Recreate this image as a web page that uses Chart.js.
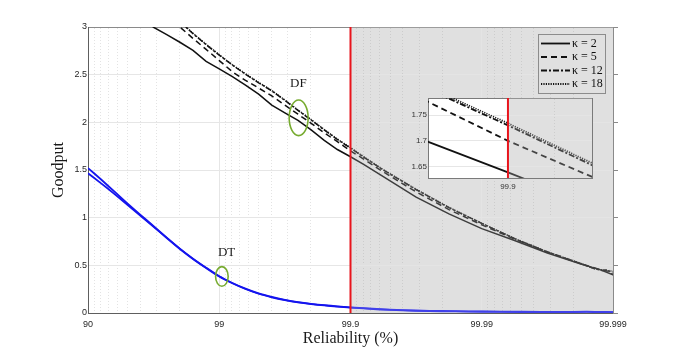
<!DOCTYPE html>
<html>
<head>
<meta charset="utf-8">
<script src="https://cdn.jsdelivr.net/npm/chart.js@4/dist/chart.umd.min.js"></script>
<style>
  html, body { margin: 0; padding: 0; background: #fff; }
  #wrap { position: relative; width: 677px; height: 352px; }
  #main { position: absolute; left: 0; top: 0; }
  #inset { position: absolute; left: 396px; top: 92px; }
</style>
</head>
<body>
<div id="wrap">
  <canvas id="main" width="677" height="352"></canvas>
  <canvas id="inset" width="200" height="100"></canvas>
</div>
<script>
// x is "number of nines": -log10(1 - R)
const nineTicks = [1, 2, 3, 4, 5];
const nineLabels = ["90", "99", "99.9", "99.99", "99.999"];
const goodputTicks = [0, 0.5, 1, 1.5, 2, 2.5, 3];
const goodputLabels = ["0", "0.5", "1", "1.5", "2", "2.5", "3"];
const insetTicks = [1.65, 1.7, 1.75];
const insetLabels = ["1.65", "1.7", "1.75"];
const shadeFrom = 3; // 99.9 %

const kappaLabels = ["\u03ba = 2", "\u03ba = 5", "\u03ba = 12", "\u03ba = 18"];

// DF curves
const k2X = [1.45, 1.5, 1.6, 1.7, 1.8, 1.9, 2.0, 2.1, 2.2, 2.3, 2.4, 2.5, 2.6, 2.7, 2.8, 2.9, 3.0, 3.1, 3.25, 3.5, 3.75, 4.0, 4.25, 4.5, 4.75, 4.9, 5.0];
const k2Y = [3.05, 2.997, 2.92, 2.84, 2.755, 2.64, 2.56, 2.48, 2.39, 2.295, 2.18, 2.10, 2.02, 1.92, 1.81, 1.715, 1.639, 1.56, 1.43, 1.215, 1.04, 0.885, 0.76, 0.63, 0.515, 0.455, 0.40];
const k5X = [1.65, 1.7, 1.8, 1.9, 2.0, 2.1, 2.2, 2.3, 2.4, 2.5, 2.6, 2.7, 2.8, 2.9, 3.0, 3.1, 3.25, 3.5, 3.75, 4.0, 4.25, 4.5, 4.75, 4.9, 5.0];
const k5Y = [3.06, 3.0, 2.88, 2.765, 2.648, 2.53, 2.44, 2.36, 2.278, 2.18, 2.085, 1.99, 1.89, 1.797, 1.70, 1.615, 1.48, 1.27, 1.085, 0.925, 0.775, 0.64, 0.52, 0.455, 0.43];
const k12X = [1.7, 1.75, 1.8, 1.9, 2.0, 2.1, 2.2, 2.3, 2.4, 2.5, 2.6, 2.7, 2.8, 2.9, 3.0, 3.1, 3.25, 3.5, 3.75, 4.0, 4.25, 4.5, 4.75, 4.85, 4.92, 4.96, 5.0];
const k12Y = [3.05, 2.993, 2.93, 2.815, 2.705, 2.60, 2.505, 2.415, 2.33, 2.23, 2.125, 2.025, 1.92, 1.82, 1.73, 1.636, 1.50, 1.295, 1.105, 0.94, 0.78, 0.64, 0.52, 0.47, 0.445, 0.455, 0.40];
const k18Y = [3.054, 2.997, 2.934, 2.819, 2.709, 2.604, 2.509, 2.419, 2.334, 2.234, 2.129, 2.029, 1.924, 1.824, 1.734, 1.640, 1.503, 1.298, 1.108, 0.942, 0.782, 0.642, 0.522, 0.468, 0.45, 0.44, 0.44];

// DT curves
const dtX = [1.0, 1.1, 1.2, 1.3, 1.4, 1.5, 1.6, 1.7, 1.8, 1.9, 2.0, 2.1, 2.2, 2.3, 2.4, 2.5, 2.6, 2.7, 2.8, 2.9, 3.0, 3.2, 3.4, 3.6, 3.8, 4.0, 4.3, 4.6, 4.8, 4.9, 5.0];
const dtAY = [1.52, 1.40, 1.275, 1.15, 1.03, 0.91, 0.79, 0.675, 0.57, 0.475, 0.385, 0.315, 0.255, 0.205, 0.168, 0.138, 0.114, 0.096, 0.082, 0.07, 0.06, 0.042, 0.03, 0.023, 0.019, 0.016, 0.013, 0.011, 0.014, 0.011, 0.01];
const dtBY = [1.465, 1.36, 1.25, 1.135, 1.02, 0.905, 0.787, 0.672, 0.567, 0.472, 0.382, 0.312, 0.252, 0.202, 0.165, 0.135, 0.111, 0.093, 0.079, 0.067, 0.057, 0.039, 0.027, 0.02, 0.016, 0.013, 0.01, 0.009, 0.011, 0.009, 0.008];

// annotation spots (data coords)
const markDF = { x: 2.605, y: 2.047, label: "DF", lx: 2.603, ly: 2.41 };
const markDT = { x: 2.02, y: 0.384, label: "DT", lx: 2.056, ly: 0.63 };

const serif = "'Liberation Serif', 'DejaVu Serif', serif";
const sans = "'Liberation Sans', Arial, sans-serif";
const axisColor = "#5e5e5e";
const shadeColor = "#e0e0e0";

const pts = (xs, ys) => xs.map((x, i) => ({ x: x, y: ys[i] }));

// minor decade positions (1-R = m*10^-(d+1))
const minorX = [];
nineTicks.slice(0, 4).forEach(d => {
  for (let m = 9; m >= 2; m--) minorX.push(d + 1 - Math.log10(m));
});

const labelFor = v => {
  const i = nineTicks.findIndex(t => Math.abs(t - v) < 1e-6);
  return i >= 0 ? nineLabels[i] : "";
};

const dfSets = (w) => [
  { label: kappaLabels[0], data: pts(k2X, k2Y), borderColor: "#111", borderWidth: w, borderDash: [] },
  { label: kappaLabels[1], data: pts(k5X, k5Y), borderColor: "#111", borderWidth: w, borderDash: [6, 4] },
  { label: kappaLabels[2], data: pts(k12X, k12Y), borderColor: "#111", borderWidth: w, borderDash: [6, 2, 2, 2] },
  { label: kappaLabels[3], data: pts(k12X, k18Y), borderColor: "#222", borderWidth: w, borderDash: [1.2, 1.2] }
].map(d => Object.assign(d, { pointRadius: 0, tension: 0, clip: 0, fill: false }));

const shadePlugin = {
  id: "shade",
  beforeDraw(chart) {
    const { ctx, chartArea: a, scales } = chart;
    const xs = scales.x.getPixelForValue(shadeFrom);
    ctx.save();
    ctx.fillStyle = "#fff";
    ctx.fillRect(a.left, a.top, a.right - a.left, a.bottom - a.top);
    ctx.fillStyle = shadeColor;
    ctx.fillRect(xs, a.top, a.right - xs, a.bottom - a.top);
    ctx.restore();
  },
  afterDatasetsDraw(chart) {
    const { ctx, chartArea: a, scales } = chart;
    const xs = scales.x.getPixelForValue(shadeFrom);
    ctx.save();
    ctx.fillStyle = "rgba(224,224,224,0.22)";
    ctx.fillRect(xs, a.top, a.right - xs, a.bottom - a.top);
    ctx.strokeStyle = "#e8141c";
    ctx.lineWidth = 2;
    ctx.beginPath();
    ctx.moveTo(xs, a.top);
    ctx.lineTo(xs, a.bottom);
    ctx.stroke();
    ctx.restore();
  }
};

const notePlugin = {
  id: "notes",
  afterDraw(chart) {
    const { ctx, scales } = chart;
    ctx.save();
    [[markDF, 9.5, 17.8], [markDT, 6.3, 9.8]].forEach(([m, rx, ry]) => {
      const cx = scales.x.getPixelForValue(m.x);
      const cy = scales.y.getPixelForValue(m.y);
      ctx.strokeStyle = "#77ab30";
      ctx.lineWidth = 1.6;
      ctx.beginPath();
      ctx.ellipse(cx, cy, rx, ry, 0, 0, Math.PI * 2);
      ctx.stroke();
      ctx.fillStyle = "#1a1a1a";
      ctx.font = "13px " + serif;
      ctx.textAlign = "center";
      ctx.textBaseline = "middle";
      ctx.fillText(m.label, scales.x.getPixelForValue(m.lx), scales.y.getPixelForValue(m.ly));
    });

    // legend box
    const bx = 538, by = 34, bw = 67, bh = 59;
    ctx.fillStyle = shadeColor;
    ctx.fillRect(bx, by, bw, bh);
    ctx.strokeStyle = "#8c8c8c";
    ctx.lineWidth = 1;
    ctx.strokeRect(bx + 0.5, by + 0.5, bw, bh);
    const rowsY = [43.5, 57, 70.5, 84];
    chart.data.datasets.slice(0, 4).forEach((d, i) => {
      ctx.strokeStyle = "#111";
      ctx.lineWidth = 1.8;
      ctx.setLineDash(d.borderDash);
      ctx.beginPath();
      ctx.moveTo(541, rowsY[i]);
      ctx.lineTo(570, rowsY[i]);
      ctx.stroke();
      ctx.setLineDash([]);
      ctx.fillStyle = "#111";
      ctx.font = "12px " + serif;
      ctx.textAlign = "left";
      ctx.textBaseline = "middle";
      ctx.fillText(d.label, 572, rowsY[i]);
    });
    ctx.restore();
  }
};

new Chart(document.getElementById("main"), {
  type: "line",
  data: {
    datasets: dfSets(1.5).concat([
      { label: "DT a", data: pts(dtX, dtAY), borderColor: "#1414ee", borderWidth: 1.8, pointRadius: 0, tension: 0.2, clip: 0 },
      { label: "DT b", data: pts(dtX, dtBY), borderColor: "#1414ee", borderWidth: 1.8, pointRadius: 0, tension: 0.2, clip: 0 }
    ])
  },
  options: {
    responsive: false,
    animation: false,
    layout: { padding: 0 },
    plugins: { legend: { display: false }, tooltip: { enabled: false } },
    scales: {
      x: {
        type: "linear", position: "bottom", min: 1, max: 5,
        afterBuildTicks: s => { s.ticks = nineTicks.map(v => ({ value: v })); },
        afterFit: s => { s.height = 39; },
        ticks: { autoSkip: false, maxRotation: 0, padding: 6, color: "#262626", font: { family: sans, size: 9 }, callback: v => labelFor(v) },
        grid: { color: "#e6e6e6", drawTicks: false },
        border: { color: axisColor },
        title: { display: true, text: "Reliability (%)", color: "#1a1a1a", font: { family: serif, size: 16 }, padding: { top: 0, bottom: 4 } }
      },
      x2: {
        type: "linear", position: "top", min: 1, max: 5,
        afterBuildTicks: s => { s.ticks = minorX.map(v => ({ value: v })); },
        afterFit: s => { s.height = 27; },
        ticks: { display: false, autoSkip: false },
        grid: { color: "rgba(0,0,0,0.11)", drawTicks: false },
        border: { color: "#8a8a8a", dash: [1, 2] }
      },
      y: {
        type: "linear", position: "left", min: 0, max: 3,
        afterBuildTicks: s => { s.ticks = goodputTicks.map(v => ({ value: v })); },
        afterFit: s => { s.width = 88; },
        ticks: { padding: 1, color: "#262626", font: { family: sans, size: 9 }, callback: (v, i) => goodputLabels[i] },
        grid: { color: "#e6e6e6", drawTicks: false },
        border: { color: axisColor },
        title: { display: true, text: "Goodput", color: "#1a1a1a", font: { family: serif, size: 16 }, padding: { top: 49, bottom: 0 } }
      },
      y2: {
        type: "linear", position: "right", min: 0, max: 3,
        afterBuildTicks: s => { s.ticks = goodputTicks.map(v => ({ value: v })); },
        afterFit: s => { s.width = 64; },
        ticks: { display: false },
        grid: { drawOnChartArea: false, drawTicks: true, tickLength: 5, color: "#8a8a8a" },
        border: { color: "#8a8a8a" }
      }
    }
  },
  plugins: [shadePlugin, notePlugin]
});

// inset zoom around 99.9 %
const insetX = [2.922, 3.082];
const insetY = [1.628, 1.783];

const insetShade = {
  id: "insetShade",
  beforeDraw(chart) {
    const { ctx, chartArea: a, scales } = chart;
    const xs = scales.x.getPixelForValue(shadeFrom);
    ctx.save();
    ctx.fillStyle = "#fff";
    ctx.fillRect(a.left, a.top, a.right - a.left, a.bottom - a.top);
    ctx.fillStyle = shadeColor;
    ctx.fillRect(xs, a.top, a.right - xs, a.bottom - a.top);
    ctx.restore();
  },
  afterDatasetsDraw(chart) {
    const { ctx, chartArea: a, scales } = chart;
    const xs = scales.x.getPixelForValue(shadeFrom);
    ctx.save();
    ctx.fillStyle = "rgba(224,224,224,0.25)";
    ctx.fillRect(xs, a.top, a.right - xs, a.bottom - a.top);
    ctx.strokeStyle = "#e8141c";
    ctx.lineWidth = 2;
    ctx.beginPath();
    ctx.moveTo(xs, a.top);
    ctx.lineTo(xs, a.bottom);
    ctx.stroke();
    ctx.restore();
  }
};

new Chart(document.getElementById("inset"), {
  type: "line",
  data: { datasets: dfSets(1.8) },
  options: {
    responsive: false,
    animation: false,
    layout: { padding: 0 },
    plugins: { legend: { display: false }, tooltip: { enabled: false } },
    scales: {
      x: {
        type: "linear", position: "bottom", min: insetX[0], max: insetX[1],
        afterBuildTicks: s => { s.ticks = [{ value: shadeFrom }]; },
        afterFit: s => { s.height = 14; },
        ticks: { autoSkip: false, maxRotation: 0, padding: 4, color: "#333", font: { family: sans, size: 8 }, callback: v => labelFor(v) },
        grid: { color: "#e6e6e6", drawTicks: false },
        border: { color: "#7a7a7a" }
      },
      x2: {
        type: "linear", position: "top", min: insetX[0], max: insetX[1],
        afterBuildTicks: s => { s.ticks = minorX.filter(v => v > insetX[0] && v < insetX[1]).map(v => ({ value: v })); },
        afterFit: s => { s.height = 6; },
        ticks: { display: false },
        grid: { color: "rgba(0,0,0,0.11)", drawTicks: false },
        border: { color: "#7a7a7a", dash: [1, 2] }
      },
      y: {
        type: "linear", position: "left", min: insetY[0], max: insetY[1],
        afterBuildTicks: s => { s.ticks = insetTicks.map(v => ({ value: v })); },
        afterFit: s => { s.width = 32; },
        ticks: { padding: 1, color: "#333", font: { family: sans, size: 8 }, callback: (v, i) => insetLabels[i] },
        grid: { color: "#e6e6e6", drawTicks: false },
        border: { color: "#7a7a7a" }
      },
      y2: {
        type: "linear", position: "right", min: insetY[0], max: insetY[1],
        afterFit: s => { s.width = 4; },
        ticks: { display: false },
        grid: { drawOnChartArea: false, drawTicks: false },
        border: { color: "#7a7a7a" }
      }
    }
  },
  plugins: [insetShade]
});
</script>
</body>
</html>
